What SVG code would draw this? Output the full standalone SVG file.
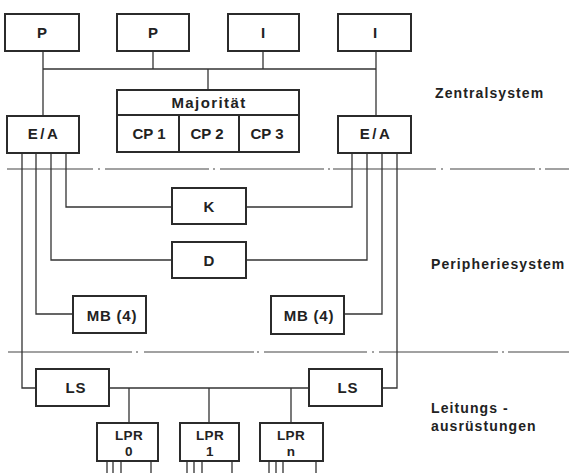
<svg xmlns="http://www.w3.org/2000/svg" width="569" height="473" viewBox="0 0 569 473">
<style>
.box{fill:none;stroke:#2b2b2b;stroke-width:2}
.ln{fill:none;stroke:#333;stroke-width:1.3}
.dd{fill:none;stroke:#444;stroke-width:1.2}
.t{font-family:"Liberation Sans",Arial,sans-serif;font-weight:bold;font-size:15px;fill:#222;text-anchor:middle}
.l{font-size:13.5px;letter-spacing:0.3px}
.s{font-family:"Liberation Sans",Arial,sans-serif;font-weight:bold;font-size:14px;fill:#222;letter-spacing:1.1px}
</style>
<rect width="569" height="473" fill="#fff"/>
<g id="separators" class="dd">
<path d="M7 169H93M98 169H100M105 169H209M213 169H215M220 169H324M328 169H330M333 169H436M441 169H443M450 169H535M539 169H541M545 169H569"/>
<path d="M8 352H132M136 352H138M144 352H254M257 352H259M264 352H367M372 352H374M379 352H498M502 352H504M508 352H569"/>
</g>
<g id="connectors" class="ln">
<path d="M43 69H376"/>
<path d="M43 51V116"/>
<path d="M153 51V69"/>
<path d="M263 51V69"/>
<path d="M376 51V116"/>
<path d="M208 69V90"/>
<path d="M22 153V388H36"/>
<path d="M36 153V314H73"/>
<path d="M51 153V260H172"/>
<path d="M66 153V207H172"/>
<path d="M352 153V207H246"/>
<path d="M367 153V260H246"/>
<path d="M382 153V314H344"/>
<path d="M397 153V388H382"/>
<path d="M109 388H309"/>
<path d="M129 388V423M209 388V423M291 388V423"/>
<path d="M107 461V473M113 461V473M121 461V473M151 461V473"/>
<path d="M187 461V473M194 461V473M202 461V473M232 461V473"/>
<path d="M269 461V473M276 461V473M283 461V473M316 461V473"/>
</g>
<g id="P1"><rect class="box" x="5" y="14" width="74" height="37"/><text class="t" x="42" y="38">P</text></g>
<g id="P2"><rect class="box" x="117" y="14" width="72" height="37"/><text class="t" x="153" y="38">P</text></g>
<g id="I1"><rect class="box" x="228" y="14" width="71" height="37"/><text class="t" x="263" y="38">I</text></g>
<g id="I2"><rect class="box" x="338" y="14" width="73" height="37"/><text class="t" x="375" y="38">I</text></g>
<g id="Majoritaet">
<rect class="box" x="117" y="90" width="182" height="62"/>
<path class="box" d="M117 115H299M179 115V152M239 115V152"/>
<text class="t" x="209" y="108" style="letter-spacing:1.4px">Majorität</text>
<text class="t" x="149" y="139">CP 1</text>
<text class="t" x="207" y="139">CP 2</text>
<text class="t" x="267" y="139">CP 3</text>
</g>
<g id="EA1"><rect class="box" x="7" y="116" width="72" height="37"/><text class="t" x="44" y="139" style="letter-spacing:2.5px">E/A</text></g>
<g id="EA2"><rect class="box" x="338" y="116" width="73" height="37"/><text class="t" x="376" y="139" style="letter-spacing:2.5px">E/A</text></g>
<g id="K"><rect class="box" x="172" y="188" width="74" height="36"/><text class="t" x="209" y="212">K</text></g>
<g id="D"><rect class="box" x="172" y="242" width="74" height="36"/><text class="t" x="209" y="266">D</text></g>
<g id="MB1"><rect class="box" x="73" y="296" width="73" height="37"/><text class="t" x="112" y="321" style="letter-spacing:0.8px">MB (4)</text></g>
<g id="MB2"><rect class="box" x="271" y="296" width="73" height="38"/><text class="t" x="309" y="321" style="letter-spacing:0.8px">MB (4)</text></g>
<g id="LS1"><rect class="box" x="36" y="369" width="73" height="37"/><text class="t" x="76" y="393" style="letter-spacing:0.8px">LS</text></g>
<g id="LS2"><rect class="box" x="309" y="369" width="73" height="37"/><text class="t" x="348" y="393" style="letter-spacing:0.8px">LS</text></g>
<g id="LPR0"><rect class="box" x="97" y="423" width="61" height="38"/><text class="t l" x="129" y="440">LPR</text><text class="t l" x="129" y="456">0</text></g>
<g id="LPR1"><rect class="box" x="180" y="423" width="59" height="38"/><text class="t l" x="210" y="440">LPR</text><text class="t l" x="210" y="456">1</text></g>
<g id="LPRn"><rect class="box" x="260" y="423" width="63" height="38"/><text class="t l" x="291" y="440">LPR</text><text class="t l" x="291" y="456">n</text></g>
<g id="labels">
<text class="s" x="435" y="98">Zentralsystem</text>
<text class="s" x="431" y="269">Peripheriesystem</text>
<text class="s" x="431" y="413">Leitungs -</text>
<text class="s" x="431" y="431">ausrüstungen</text>
</g>
</svg>
